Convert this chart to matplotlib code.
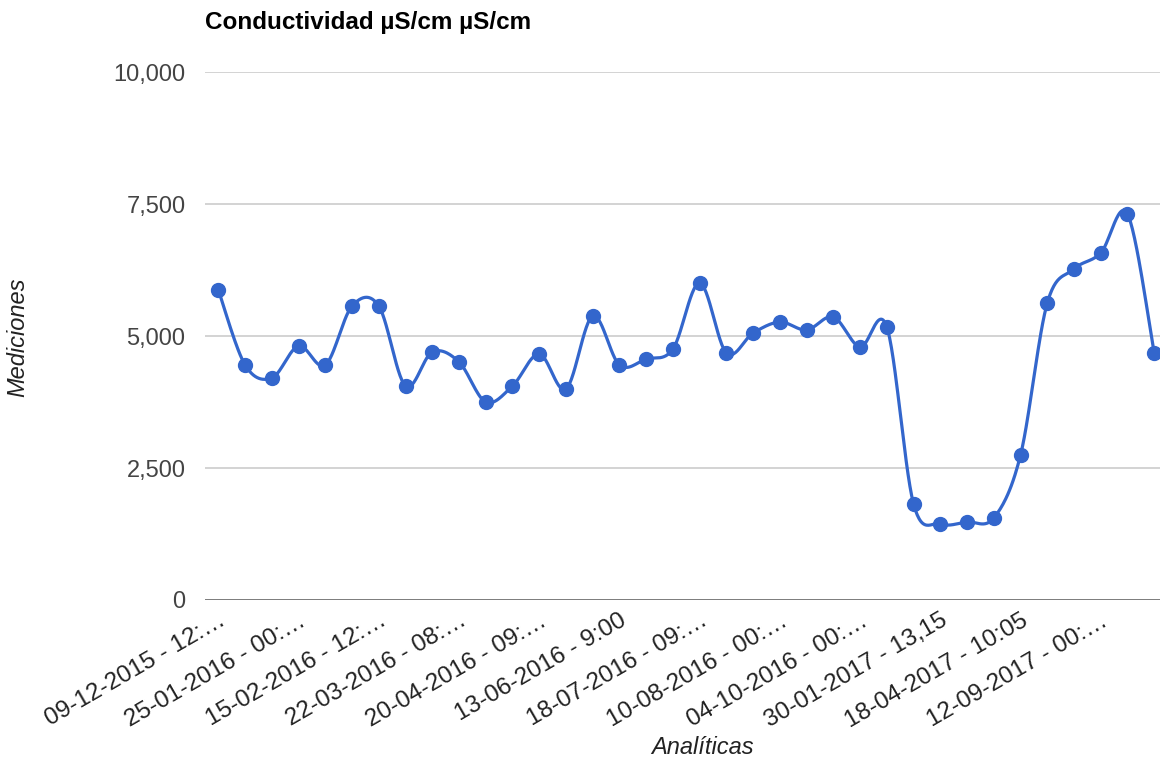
import numpy as np
import matplotlib
matplotlib.use("Agg")
import matplotlib.pyplot as plt
from matplotlib.ticker import FuncFormatter

plt.rcParams['font.family'] = ['Liberation Sans', 'DejaVu Sans']

title = "Conductividad µS/cm µS/cm"
values = [5871, 4451, 4205, 4811, 4451, 5568, 5568, 4053, 4697, 4508,
          3750, 4053, 4659, 3996, 5379, 4451, 4564, 4754, 6004, 4678,
          5057, 5265, 5114, 5360, 4792, 5170, 1818, 1439, 1477, 1553,
          2746, 5625, 6269, 6572, 7311, 4678]
tick_labels = ["09-12-2015 - 12:…", "25-01-2016 - 00:…", "15-02-2016 - 12:…",
               "22-03-2016 - 08:…", "20-04-2016 - 09:…", "13-06-2016 - 9:00",
               "18-07-2016 - 09:…", "10-08-2016 - 00:…", "04-10-2016 - 00:…",
               "30-01-2017 - 13,15", "18-04-2017 - 10:05", "12-09-2017 - 00:…"]
yticks = [0, 2500, 5000, 7500, 10000]

n = len(values)
x = np.arange(n, dtype=float)
y = np.array(values, dtype=float)

# smooth curve (Catmull-Rom style cubic Bezier through the points)
k = 1.0 / 6.0
xs, ys = [], []
t = np.linspace(0, 1, 30)
for i in range(n - 1):
    p0 = np.array([x[max(i - 1, 0)], y[max(i - 1, 0)]])
    p1 = np.array([x[i], y[i]])
    p2 = np.array([x[i + 1], y[i + 1]])
    p3 = np.array([x[min(i + 2, n - 1)], y[min(i + 2, n - 1)]])
    c1 = p1 + (p2 - p0) * k
    c2 = p2 - (p3 - p1) * k
    b = ((1 - t) ** 3)[:, None] * p1 + (3 * (1 - t) ** 2 * t)[:, None] * c1 + \
        (3 * (1 - t) * t ** 2)[:, None] * c2 + (t ** 3)[:, None] * p2
    xs.extend(b[:, 0]); ys.extend(b[:, 1])

fig = plt.figure(figsize=(11.6, 7.62), dpi=100)
ax = fig.add_axes([205 / 1160, 162 / 762, 962.6 / 1160, 528 / 762])

blue = "#3366cc"
ax.plot(xs, ys, color=blue, lw=2.3, solid_capstyle='round', zorder=3, clip_on=True)
ax.plot(x, y, 'o', color=blue, ms=10, zorder=4, clip_on=True)

ax.set_xlim(-0.5, n - 0.5)
ax.set_ylim(0, 10000)
ax.set_yticks(yticks)
ax.yaxis.set_major_formatter(FuncFormatter(lambda v, p: f"{int(v):,}"))
for v in yticks[1:]:
    ax.axhline(v, color="#cccccc", lw=1.2, zorder=1)
ax.axhline(0, color="#555555", lw=1.8, zorder=2)

fs = 17
ax.set_xticks(x[::3])
ax.set_xticklabels(tick_labels, rotation=30, ha='right', va='top',
                   rotation_mode='anchor', fontsize=17.5, color="#222222")
ax.tick_params(axis='x', length=0, pad=7)
ax.tick_params(axis='y', length=0, pad=14, labelsize=fs, labelcolor="#444444")
for s in ax.spines.values():
    s.set_visible(False)

fig.text(205 / 1160, 1 - 22 / 762, title, fontsize=17.5, fontweight='bold',
         ha='left', va='center', color="#000000")
fig.text(18 / 1160, 1 - 337 / 762, "Mediciones", rotation=90, style='italic',
         fontsize=fs, ha='center', va='center', color="#222222")
fig.text(702 / 1160, 1 - 748 / 762, "Analíticas", style='italic',
         fontsize=fs, ha='center', va='center', color="#222222")

fig.savefig("out.png", dpi=100)
